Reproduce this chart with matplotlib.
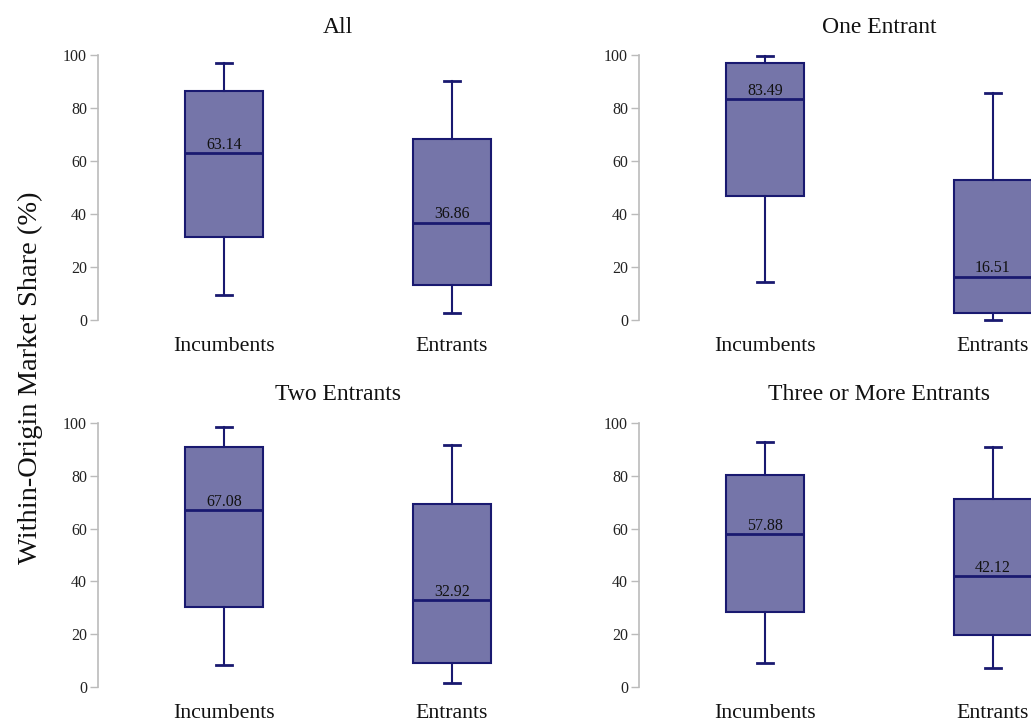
import matplotlib
matplotlib.use("Agg")
import matplotlib.pyplot as plt

plt.rcParams['font.family'] = ['Liberation Serif', 'DejaVu Serif']

categories = ["Incumbents", "Entrants"]
panel_titles = ["All", "One Entrant", "Two Entrants", "Three or More Entrants"]

# per panel: [Incumbents, Entrants]
whislo = [[9.5, 2.9], [14.3, 0.3], [8.4, 1.6], [9.0, 7.2]]
q1 = [[31.4, 13.5], [46.9, 2.7], [30.5, 9.1], [28.6, 19.8]]
med = [[63.14, 36.86], [83.49, 16.51], [67.08, 32.92], [57.88, 42.12]]
q3 = [[86.4, 68.6], [97.2, 53.1], [90.9, 69.4], [80.1, 71.3]]
whishi = [[97.1, 90.4], [99.7, 85.7], [98.4, 91.5], [92.7, 90.9]]

yticks = [0, 20, 40, 60, 80, 100]

W, H = 1031, 721
fig = plt.figure(figsize=(W / 100, H / 100), dpi=100)

edge = "#191970"
fill = (25 / 255, 25 / 255, 112 / 255, 0.6)

col_left = [98, 639]
row_y = [(55.3, 320.3), (422.7, 687.3)]
ax_w = 480

for i in range(4):
    r, c = divmod(i, 2)
    top, bot = row_y[r]
    ax = fig.add_axes([col_left[c] / W, 1 - bot / H, ax_w / W, (bot - top) / H])
    stats = []
    for j, name in enumerate(categories):
        stats.append(dict(label=name, whislo=whislo[i][j], q1=q1[i][j], med=med[i][j],
                          q3=q3[i][j], whishi=whishi[i][j], fliers=[]))
    arts = ax.bxp(stats, positions=[0, 1], widths=0.342, patch_artist=True,
                  showfliers=False, capwidths=0.066,
                  boxprops=dict(facecolor=fill, edgecolor=edge, linewidth=1.5),
                  medianprops=dict(color=edge, linewidth=2.0),
                  whiskerprops=dict(color=edge, linewidth=1.5),
                  capprops=dict(color=edge, linewidth=2.0))
    for k, v in arts.items():
        for a in v:
            a.set_clip_on(False)
    for j in range(2):
        ax.annotate(f"{med[i][j]:.2f}", xy=(j, med[i][j]), xytext=(0, 3),
                    textcoords="offset points", ha="center", va="baseline",
                    fontsize=11.5, color="#111111")
    ax.set_xlim(-0.5526, 1.5526)
    ax.set_ylim(0, 100)
    ax.set_yticks(yticks)
    ax.set_xticks([0, 1])
    ax.set_xticklabels(categories, fontsize=15.7)
    for s in ["top", "right", "bottom"]:
        ax.spines[s].set_visible(False)
    ax.spines["left"].set_color("#bbbbbb")
    ax.spines["left"].set_linewidth(1.2)
    ax.tick_params(axis="y", length=6, width=1, color="#bbbbbb", labelsize=11.5,
                   labelcolor="#222222", pad=2)
    ax.tick_params(axis="x", length=0, pad=12, labelcolor="#111111")
    ax.set_title(panel_titles[i], fontsize=17, pad=16, color="#111111")
    ax.patch.set_alpha(0)

fig.text(30 / W, 1 - 378 / H, "Within-Origin Market Share (%)", rotation=90,
         ha="center", va="center", fontsize=20.5, color="#111111")

fig.savefig("out.png", dpi=100)
